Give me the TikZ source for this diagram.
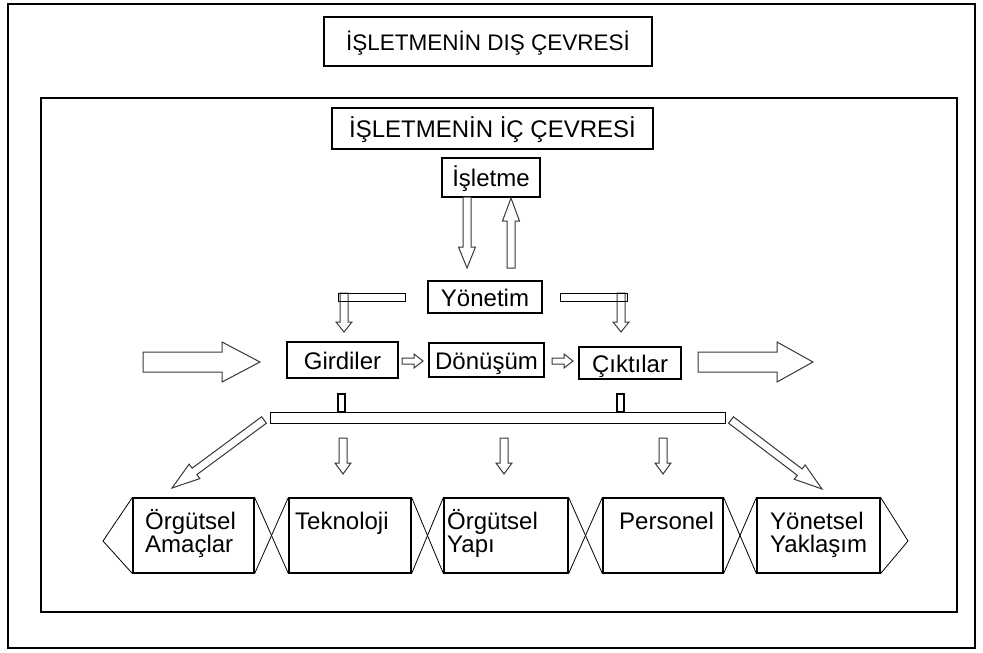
\documentclass[tikz,border=0pt]{standalone}
\usepackage{fontspec}
\setmainfont{Liberation Sans}
\usetikzlibrary{calc}

% Hollow block arrow from tail #2 to tip #3:
% #4 half shaft width, #5 half head width, #6 head length
\newcommand{\hollowarrow}[6][]{%
  \coordinate (ha-base) at ($(#3)!#6!(#2)$);
  \draw[hollow,#1]
    ($(#2)!#4!90:(#3)$) -- ($(ha-base)!#4!-90:(#2)$) -- ($(ha-base)!#5!-90:(#2)$)
    -- (#3) --
    ($(ha-base)!#5!90:(#2)$) -- ($(ha-base)!#4!90:(#2)$) -- ($(#2)!#4!-90:(#3)$) -- cycle;
}
\newcommand{\boxfont}{\fontsize{24}{22.5}\selectfont}

\begin{document}
\begin{tikzpicture}[x=1pt, y=-1pt,
  box/.style={draw, line width=1.2pt, inner sep=0pt},
  boxtext/.style={font=\boxfont, inner sep=0pt, text height=18pt, text depth=0pt},
  linetext/.style={font=\boxfont, inner sep=0pt, anchor=base west},
  hollow/.style={draw=black!78, line width=1pt, fill=white, line join=miter},
  frame/.style={draw, line width=1.2pt},
  cross/.style={draw, line width=0.8pt},
]
\useasboundingbox[fill=white] (0,0) rectangle (983,653);

% environment frames
\draw[frame] (8,4) rectangle (975,648);
\draw[frame, line width=1.4pt] (41,98) rectangle (957,612);

% titles
\node[box, boxtext, font=\fontsize{22.5}{26}\selectfont, minimum width=328pt, minimum height=49pt]
  (dis) at (488,41.5) {İŞLETMENİN DIŞ ÇEVRESİ};
\node[box, boxtext, minimum width=321pt, minimum height=41pt]
  (ic) at (492.5,128.5) {İŞLETMENİN İÇ ÇEVRESİ};

% management loop
\node[box, boxtext, minimum width=98pt, minimum height=39pt] (isletme) at (491,177.5) {İşletme};
\node[box, boxtext, minimum width=114pt, minimum height=32pt] (yonetim) at (485,297) {Yönetim};

\coordinate (dn-s) at (467,197);  \coordinate (dn-e) at (467,268);
\coordinate (up-s) at (511,268);  \coordinate (up-e) at (511,198);
\hollowarrow{dn-s}{dn-e}{4pt}{8.5pt}{21pt}
\hollowarrow{up-s}{up-e}{4pt}{8.5pt}{23pt}

% process row
\node[box, boxtext, minimum width=111pt, minimum height=36pt] (girdiler) at (342.5,360) {Girdiler};
\node[box, boxtext, minimum width=115pt, minimum height=34pt] (donusum) at (486.5,360) {Dönüşüm};
\node[box, boxtext, minimum width=102pt, minimum height=32pt] (ciktilar) at (630,363) {Çıktılar};

% bars from management to inputs and outputs
\coordinate (dropL-s) at (344,293); \coordinate (dropL-e) at (344,332);
\coordinate (dropR-s) at (621,293); \coordinate (dropR-e) at (621,332);
\hollowarrow{dropL-s}{dropL-e}{4pt}{8pt}{10pt}
\hollowarrow{dropR-s}{dropR-e}{4pt}{8pt}{10pt}
\node[box, line width=1pt, minimum width=67pt, minimum height=8pt] (barL) at (371.5,297) {};
\node[box, line width=1pt, minimum width=67pt, minimum height=8pt] (barR) at (593.5,297) {};

% big input / output arrows and small flow arrows
\coordinate (in-s) at (143,362);  \coordinate (in-e) at (260,362);
\coordinate (out-s) at (698,362); \coordinate (out-e) at (813,362);
\hollowarrow{in-s}{in-e}{10pt}{20pt}{38pt}
\hollowarrow{out-s}{out-e}{10pt}{20pt}{36pt}
\coordinate (f1-s) at (402,361); \coordinate (f1-e) at (423,361);
\coordinate (f2-s) at (552,361); \coordinate (f2-e) at (573,361);
\hollowarrow{f1-s}{f1-e}{3pt}{7pt}{9pt}
\hollowarrow{f2-s}{f2-e}{3pt}{7pt}{9pt}

% feedback bar under the process row
\node[box, line width=1pt, minimum width=455pt, minimum height=11pt] (bar) at (497.5,417.5) {};
\node[box, line width=1.1pt, minimum width=7pt, minimum height=18pt] (stubL) at (341.5,403) {};
\node[box, line width=1.1pt, minimum width=7pt, minimum height=18pt] (stubR) at (620.5,403) {};

% subsystems
\node[box, minimum width=121pt, minimum height=75pt] (b1) at (193.5,535.5) {};
\node[box, minimum width=122pt, minimum height=75pt] (b2) at (350,535.5) {};
\node[box, minimum width=124pt, minimum height=75pt] (b3) at (506,535.5) {};
\node[box, minimum width=120pt, minimum height=75pt] (b4) at (663,535.5) {};
\node[box, minimum width=123pt, minimum height=75pt] (b5) at (818.5,535.5) {};

\node[linetext] (t1a) at (145,529) {Örgütsel};
\node[linetext] (t1b) at (145,552) {Amaçlar};
\node[linetext] (t2a) at (295,529) {Teknoloji};
\node[linetext] (t3a) at (447,529) {Örgütsel};
\node[linetext] (t3b) at (447,552) {Yapı};
\node[linetext] (t4a) at (619,529) {Personel};
\node[linetext] (t5a) at (770,529) {Yönetsel};
\node[linetext] (t5b) at (770,552) {Yaklaşım};

\coordinate (tipL) at (103,541);
\coordinate (tipR) at (908,541);
\draw[cross] (b1.north west) -- (tipL) -- (b1.south west);
\draw[cross] (b5.north east) -- (tipR) -- (b5.south east);
\foreach \a/\b in {b1/b2, b2/b3, b3/b4, b4/b5} {
  \draw[cross] (\a.north east) -- (\b.south west);
  \draw[cross] (\a.south east) -- (\b.north west);
}

% arrows from the bar to the subsystems
\coordinate (dL-s) at (264,420); \coordinate (dL-e) at (172,488);
\coordinate (dR-s) at (731,420); \coordinate (dR-e) at (822,489);
\hollowarrow{dL-s}{dL-e}{4pt}{9pt}{28pt}
\hollowarrow{dR-s}{dR-e}{4pt}{9pt}{28pt}
\foreach \x [count=\i] in {343,504,663} {
  \coordinate (d\i-s) at (\x,438);
  \coordinate (d\i-e) at (\x,474);
  \hollowarrow{d\i-s}{d\i-e}{4pt}{8pt}{11pt}
}
\end{tikzpicture}
\end{document}
